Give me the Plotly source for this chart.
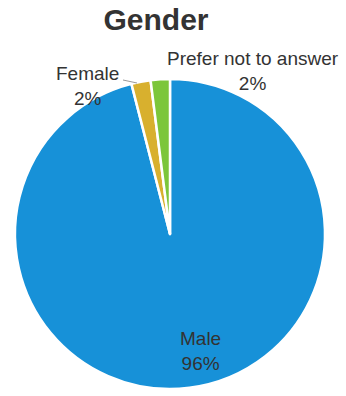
import plotly.graph_objects as go

# Survey answers (percent)
labels = ["Male", "Female", "Prefer not to answer"]
values = [96, 2, 2]
colors = ["#1791d8", "#d8b02e", "#7cc63a"]

W, H = 346, 396


def px(x):
    return x / W


def py(y):
    return 1 - y / H


fig = go.Figure()

# pie centre (170, 234), radius 155
cx, cy, r = 170, 234, 155
fig.add_trace(go.Pie(
    labels=labels,
    values=values,
    sort=False,
    direction="clockwise",
    rotation=0,
    marker=dict(colors=colors, line=dict(color="white", width=2.5)),
    textinfo="none",
    hoverinfo="label+percent",
    showlegend=False,
    domain=dict(x=[px(cx - r), px(cx + r)], y=[py(cy + r), py(cy - r)]),
))

# Slice labels placed like the original chart
label_pos = {
    "Male": (200, 351),
    "Female": (87, 86),
    "Prefer not to answer": (253, 71),
}
for lab, val in zip(labels, values):
    x, y = label_pos[lab]
    fig.add_annotation(
        x=px(x), y=py(y), xref="paper", yref="paper",
        text=f"{lab}<br>{val}%", showarrow=False,
        font=dict(family="Liberation Sans, Arial", size=19, color="#333333"),
        xanchor="center", yanchor="middle",
    )

# tiny leader line next to "Female"
fig.add_shape(
    type="line", xref="paper", yref="paper",
    x0=px(123), y0=py(80), x1=px(137), y1=py(83),
    line=dict(color="#999999", width=1),
)

fig.update_layout(
    title=dict(
        text="<b>Gender</b>", x=px(156), xanchor="center",
        y=py(19), yanchor="middle",
        font=dict(family="Liberation Sans, Arial", size=30, color="#333333"),
    ),
    width=W, height=H,
    margin=dict(l=0, r=0, t=0, b=0),
    paper_bgcolor="white",
)

# drop the default page margin so the figure fills the window
fig.write_html("out.html", config={"displayModeBar": False},
               post_script="document.body.style.margin='0';")
